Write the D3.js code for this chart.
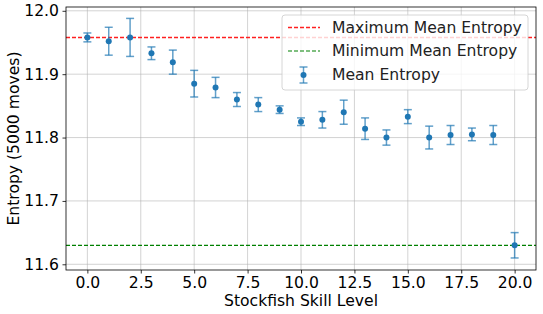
<!DOCTYPE html>
<html>
<head>
<meta charset="utf-8">
<script src="https://cdn.jsdelivr.net/npm/d3@7"></script>
<style>
  body { margin: 0; background: #fff; }
  svg { font-family: "DejaVu Sans", sans-serif; }
</style>
</head>
<body>
<svg width="543" height="314"></svg>
<script>
// skill levels and measured entropy (mean +- error)
const levels = [0, 1, 2, 3, 4, 5, 6, 7, 8, 9, 10, 11, 12, 13, 14, 15, 16, 17, 18, 19, 20];
const meanEntropy = [11.958, 11.952, 11.958, 11.933, 11.919, 11.885, 11.879, 11.860, 11.852, 11.844,
    11.825, 11.828, 11.840, 11.814, 11.800, 11.833, 11.800, 11.804, 11.805, 11.804, 11.630];
const errEntropy = [0.007, 0.022, 0.030, 0.010, 0.019, 0.021, 0.016, 0.011, 0.011, 0.006,
    0.006, 0.013, 0.019, 0.017, 0.012, 0.011, 0.018, 0.015, 0.010, 0.015, 0.020];
const xTicks = [0, 2.5, 5, 7.5, 10, 12.5, 15, 17.5, 20];
const yTicks = [11.6, 11.7, 11.8, 11.9, 12.0];
const legendLabels = ['Maximum Mean Entropy', 'Minimum Mean Entropy', 'Mean Entropy'];

const maxMean = d3.max(meanEntropy);
const minMean = d3.min(meanEntropy);

const mL = 66, mR = 536, mT = 7, mB = 270;
const blue = '#1f77b4';
const fs = 15.6;

const svg = d3.select('svg');

const xScale = d3.scaleLinear().domain([-1, 21]).range([mL, mR]);
const yScale = d3.scaleLinear().domain([11.591, 12.006]).range([mB, mT]);

// grid
svg.append('g')
    .selectAll('line')
    .data(xTicks)
    .join('line')
    .attr('x1', (d) => xScale(d)).attr('x2', (d) => xScale(d))
    .attr('y1', mT).attr('y2', mB)
    .attr('stroke', '#b0b0b0').attr('stroke-width', 0.8).attr('stroke-opacity', 0.7);
svg.append('g')
    .selectAll('line')
    .data(yTicks)
    .join('line')
    .attr('x1', mL).attr('x2', mR)
    .attr('y1', (d) => yScale(d)).attr('y2', (d) => yScale(d))
    .attr('stroke', '#b0b0b0').attr('stroke-width', 0.8).attr('stroke-opacity', 0.7);

// reference lines
svg.append('line')
    .attr('x1', mL).attr('x2', mR)
    .attr('y1', yScale(maxMean)).attr('y2', yScale(maxMean))
    .attr('stroke', '#ff2020').attr('stroke-width', 1.5).attr('stroke-dasharray', '4,2');
svg.append('line')
    .attr('x1', mL).attr('x2', mR)
    .attr('y1', yScale(minMean)).attr('y2', yScale(minMean))
    .attr('stroke', '#008000').attr('stroke-width', 1.2).attr('stroke-dasharray', '4,2');

// error bars
const pts = levels.map((l, i) => ({ x: l, y: meanEntropy[i], e: errEntropy[i] }));
const eb = svg.append('g').attr('stroke', blue).attr('stroke-opacity', 0.7).attr('stroke-width', 1.5);
eb.append('g').selectAll('line').data(pts).join('line')
    .attr('x1', (d) => xScale(d.x)).attr('x2', (d) => xScale(d.x))
    .attr('y1', (d) => yScale(d.y - d.e)).attr('y2', (d) => yScale(d.y + d.e));
eb.append('g').selectAll('line').data(pts).join('line')
    .attr('x1', (d) => xScale(d.x) - 4).attr('x2', (d) => xScale(d.x) + 4)
    .attr('y1', (d) => yScale(d.y + d.e)).attr('y2', (d) => yScale(d.y + d.e));
eb.append('g').selectAll('line').data(pts).join('line')
    .attr('x1', (d) => xScale(d.x) - 4).attr('x2', (d) => xScale(d.x) + 4)
    .attr('y1', (d) => yScale(d.y - d.e)).attr('y2', (d) => yScale(d.y - d.e));
svg.append('g').selectAll('circle').data(pts).join('circle')
    .attr('cx', (d) => xScale(d.x)).attr('cy', (d) => yScale(d.y))
    .attr('r', 3).attr('fill', blue);

// axes
const xAxis = d3.axisBottom(xScale).tickValues(xTicks).tickFormat(d3.format('.1f')).tickSize(3.5).tickPadding(3.5);
const yAxis = d3.axisLeft(yScale).tickValues(yTicks).tickFormat(d3.format('.1f')).tickSize(3.5).tickPadding(3.5);
const gx = svg.append('g').attr('transform', `translate(0,${mB})`).call(xAxis);
const gy = svg.append('g').attr('transform', `translate(${mL},0)`).call(yAxis);
[gx, gy].forEach((g) => {
    g.select('.domain').remove();
    g.selectAll('text').attr('font-size', fs).attr('fill', '#000').attr('font-family', 'DejaVu Sans');
    g.selectAll('line').attr('stroke', '#000').attr('stroke-width', 0.8);
});
svg.append('rect')
    .attr('x', mL).attr('y', mT).attr('width', mR - mL).attr('height', mB - mT)
    .attr('fill', 'none').attr('stroke', '#000').attr('stroke-width', 0.8);

svg.append('text')
    .attr('x', (mL + mR) / 2).attr('y', 306)
    .attr('text-anchor', 'middle').attr('font-size', fs)
    .text('Stockfish Skill Level');
svg.append('text')
    .attr('transform', `translate(19,${(mT + mB) / 2}) rotate(-90)`)
    .attr('text-anchor', 'middle').attr('font-size', fs)
    .text('Entropy (5000 moves)');

// legend
const lg = svg.append('g');
lg.append('rect')
    .attr('x', 282).attr('y', 15).attr('width', 246).attr('height', 75).attr('rx', 3)
    .attr('fill', '#fff').attr('fill-opacity', 0.8).attr('stroke', '#ccc').attr('stroke-width', 0.8);
const ly = [27.5, 51, 75];
lg.append('line').attr('x1', 288).attr('x2', 320).attr('y1', ly[0]).attr('y2', ly[0])
    .attr('stroke', '#ff2020').attr('stroke-width', 1.5).attr('stroke-dasharray', '4,2');
lg.append('line').attr('x1', 288).attr('x2', 320).attr('y1', ly[1]).attr('y2', ly[1])
    .attr('stroke', '#008000').attr('stroke-width', 1.2).attr('stroke-dasharray', '4,2');
lg.append('line').attr('x1', 303.5).attr('x2', 303.5).attr('y1', ly[2] - 8).attr('y2', ly[2] + 8)
    .attr('stroke', blue).attr('stroke-opacity', 0.7).attr('stroke-width', 1.5);
[-8, 8].forEach((o) => lg.append('line').attr('x1', 299.5).attr('x2', 307.5)
    .attr('y1', ly[2] + o).attr('y2', ly[2] + o)
    .attr('stroke', blue).attr('stroke-opacity', 0.7).attr('stroke-width', 1.5));
lg.append('circle').attr('cx', 303.5).attr('cy', ly[2]).attr('r', 3).attr('fill', blue);
lg.selectAll('text').data(legendLabels).join('text')
    .attr('x', 332).attr('y', (d, i) => ly[i]).attr('dy', '0.35em')
    .attr('font-size', fs).attr('fill', '#222').text((d) => d);
</script>
</body>
</html>
